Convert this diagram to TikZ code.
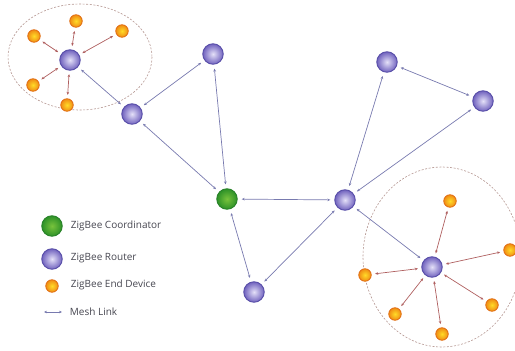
\documentclass[tikz,border=0pt]{standalone}
\usepackage{fontspec}
\setsansfont{Open Sans}
\usetikzlibrary{arrows.meta,shapes}

\definecolor{rtedge}{RGB}{88,78,168}
\definecolor{rtin}{RGB}{228,224,248}
\definecolor{rtout}{RGB}{112,98,190}
\definecolor{coedge}{RGB}{40,130,40}
\definecolor{coin}{RGB}{120,195,60}
\definecolor{coout}{RGB}{45,145,40}
\definecolor{ededge}{RGB}{225,110,20}
\definecolor{edin}{RGB}{255,220,40}
\definecolor{edout}{RGB}{240,140,20}
\definecolor{meshcol}{RGB}{120,122,175}
\definecolor{edlink}{RGB}{175,95,95}
\definecolor{ringcol}{RGB}{180,150,145}
\definecolor{legtext}{RGB}{70,70,80}

\begin{document}
\begin{tikzpicture}[x=1pt,y=1pt,yscale=-1,xscale=1,
  router/.style={circle,minimum size=20.5pt,inner sep=0pt,draw=rtedge,line width=0.9pt,inner color=rtin,outer color=rtout},
  coord/.style={circle,minimum size=20.5pt,inner sep=0pt,draw=coedge,line width=0.9pt,inner color=coin,outer color=coout},
  enddev/.style={circle,minimum size=12.5pt,inner sep=0pt,draw=ededge,line width=0.8pt,inner color=edin,outer color=edout},
  mesh/.style={draw=meshcol,line width=0.7pt,{Stealth[length=3pt,width=2.6pt]}-{Stealth[length=3pt,width=2.6pt]},shorten <=4pt,shorten >=4pt},
  edl/.style={draw=edlink,line width=0.7pt,{Stealth[length=3pt,width=2.6pt]}-{Stealth[length=3pt,width=2.6pt]},shorten <=3.5pt,shorten >=3.5pt},
  ring/.style={draw=ringcol,line width=0.6pt,dash pattern=on 2pt off 1.6pt},
  legend/.style={anchor=west,inner sep=0.75pt,text=legtext,font=\sffamily\fontsize{10}{12}\selectfont}]
\useasboundingbox (0,0) rectangle (515,351);

%Shape: Ellipse [id:ring1]
\draw [ring] (80,57) ellipse [x radius=72, y radius=53];
%Shape: Ellipse [id:ring2]
\draw [ring] (442,257) ellipse [x radius=79, y radius=90];

%Shape: Circle [routers]
\node [router] (r1) at (70,60) {};
\node [router] (r2) at (132,114) {};
\node [router] (r3) at (213,54) {};
\node [router] (r4) at (345,200) {};
\node [router] (r5) at (387,62) {};
\node [router] (r6) at (483,101) {};
\node [router] (r7) at (254,292) {};
\node [router] (r8) at (432,267) {};
%Shape: Circle [coordinator]
\node [coord] (co) at (227,199) {};

%Shape: Circle [end devices]
\node [enddev] (e1) at (34,36) {};
\node [enddev] (e2) at (76,21) {};
\node [enddev] (e3) at (122,31) {};
\node [enddev] (e4) at (33,85) {};
\node [enddev] (e5) at (67,105) {};
\node [enddev] (e6) at (450,201) {};
\node [enddev] (e7) at (510,250) {};
\node [enddev] (e8) at (492,305) {};
\node [enddev] (e9) at (442,334) {};
\node [enddev] (e10) at (395,314) {};
\node [enddev] (e11) at (365,275) {};

%Straight Lines [mesh links]
\draw [mesh] (r1) -- (r2);
\draw [mesh] (r2) -- (r3);
\draw [mesh] (r2) -- (co);
\draw [mesh] (r3) -- (co);
\draw [mesh] (co) -- (r4);
\draw [mesh] (co) -- (r7);
\draw [mesh] (r7) -- (r4);
\draw [mesh] (r4) -- (r5);
\draw [mesh] (r4) -- (r6);
\draw [mesh] (r5) -- (r6);
\draw [mesh] (r4) -- (r8);

%Straight Lines [end device links]
\foreach \e in {e1,e2,e3,e4,e5} \draw [edl] (r1) -- (\e);
\foreach \e in {e6,e7,e8,e9,e10,e11} \draw [edl] (r8) -- (\e);

% Legend
\node [coord] (lco) at (52,226) {};
\node [router] (lrt) at (52,259) {};
\node [enddev] (led) at (52,286) {};
\coordinate (lma) at (44,312);
\coordinate (lmb) at (62,312);
\draw [mesh,shorten <=0pt,shorten >=0pt] (lma) -- (lmb);

% Text Node
\node [legend] (tco) at (70,226) {ZigBee Coordinator};
% Text Node
\node [legend] (trt) at (70,258) {ZigBee Router};
% Text Node
\node [legend] (ted) at (70,285) {ZigBee End Device};
% Text Node
\node [legend] (tml) at (69,312) {Mesh Link};

\end{tikzpicture}
\end{document}
